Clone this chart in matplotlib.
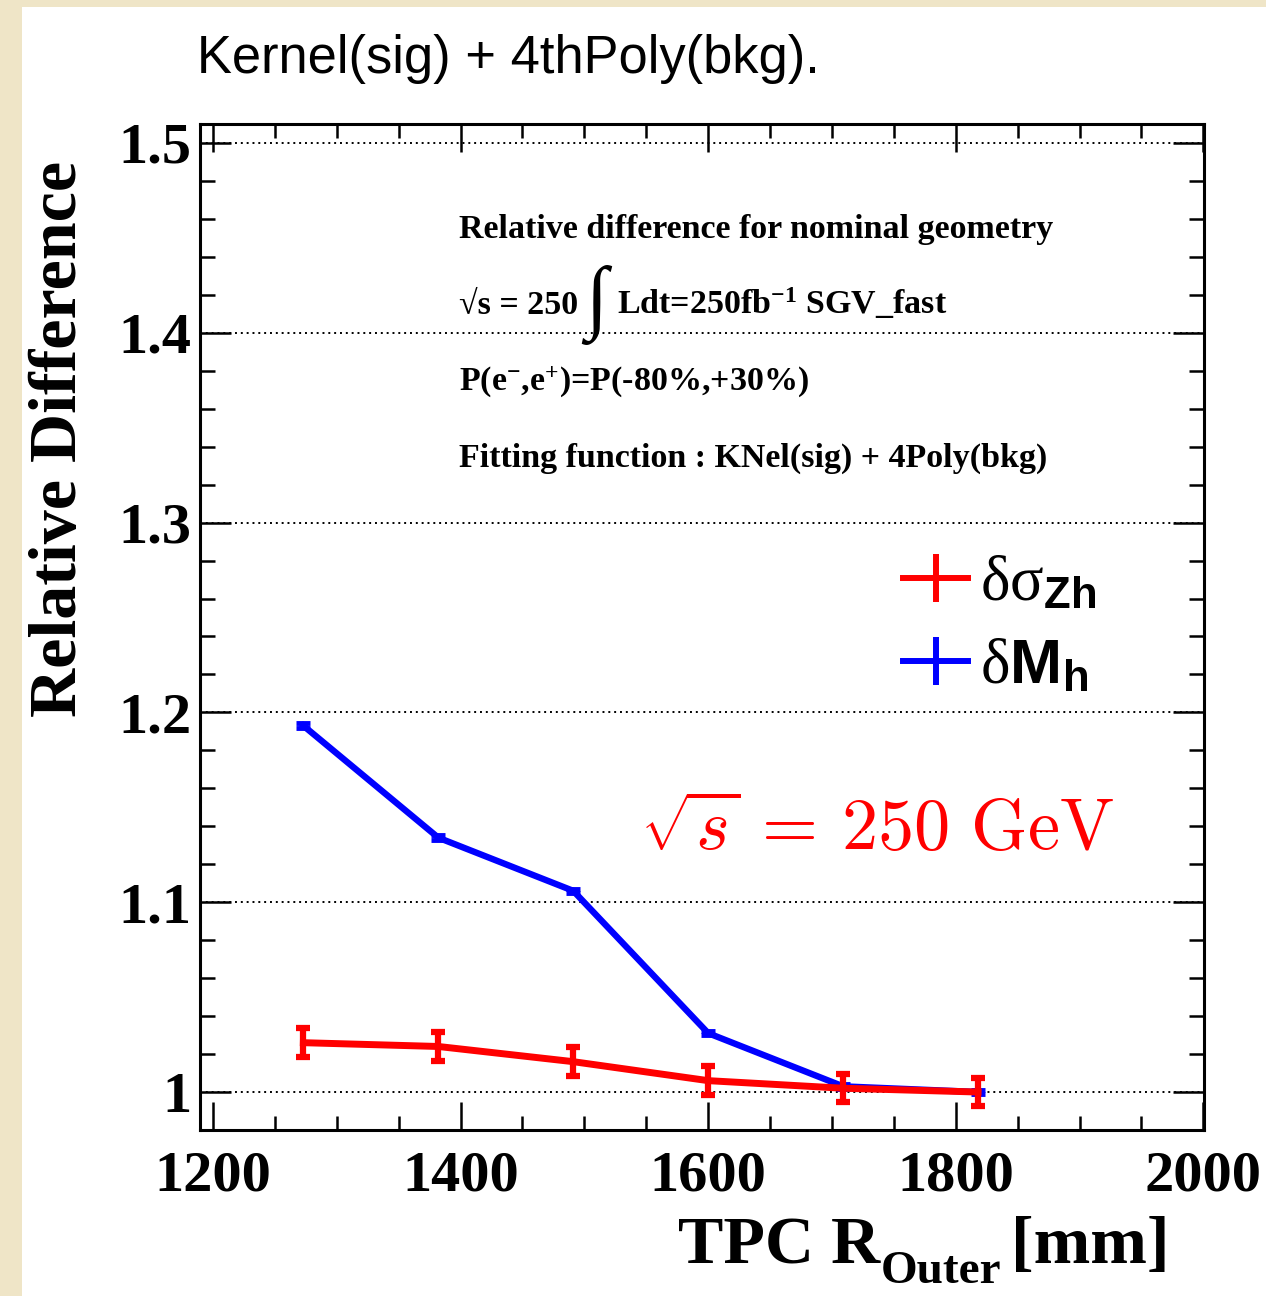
import matplotlib
matplotlib.use("Agg")
import matplotlib.pyplot as plt
from matplotlib.patches import Rectangle
from matplotlib.lines import Line2D
from matplotlib.ticker import MultipleLocator

plt.rcParams["mathtext.fontset"] = "custom"
plt.rcParams["mathtext.rm"] = "Liberation Serif"
plt.rcParams["mathtext.bf"] = "Liberation Serif:bold"
plt.rcParams["mathtext.sf"] = "Liberation Sans:bold"
plt.rcParams["mathtext.it"] = "Liberation Serif:italic"

# TPC outer radius scan (0.70 ... 1.00 of the nominal 1818 mm)
r_outer = [1273, 1382, 1491, 1600, 1709, 1818]
# relative precision on the ZH cross section, normalised to nominal geometry
delta_sigma_zh = [1.026, 1.024, 1.016, 1.006, 1.002, 1.000]
delta_sigma_err = [0.0075, 0.0075, 0.0075, 0.0075, 0.0075, 0.0075]
# relative precision on the Higgs mass
delta_mh = [1.193, 1.134, 1.106, 1.031, 1.003, 1.000]
delta_mh_err = [0.0012, 0.0012, 0.0012, 0.0012, 0.0012, 0.0012]

x_major = [1200, 1400, 1600, 1800, 2000]
y_major = [1.0, 1.1, 1.2, 1.3, 1.4, 1.5]
y_labels = ["1", "1.1", "1.2", "1.3", "1.4", "1.5"]

W, H = 1266, 1296
fig = plt.figure(figsize=(W / 100, H / 100), dpi=100)
fig.patch.set_facecolor("#efe5c7")
fig.patches.append(Rectangle((22 / W, 0), 1, 1 - 7 / H, transform=fig.transFigure,
                             facecolor="white", edgecolor="none", zorder=-5))


def fx(x):
    return x / W


def fy(y):
    return 1 - y / H


ax = fig.add_axes([fx(200), fy(1130), (1204 - 200) / W, (1130 - 124) / H])
ax.set_facecolor("white")
ax.set_xlim(1189.5, 2000.5)
ax.set_ylim(0.98, 1.51)

serif_bold = dict(family="Liberation Serif", weight="bold")

ax.set_xticks(x_major)
ax.set_xticklabels([str(v) for v in x_major], fontsize=42, **serif_bold)
ax.set_yticks(y_major)
ax.set_yticklabels(y_labels, fontsize=42, **serif_bold)
ax.xaxis.set_minor_locator(MultipleLocator(50))
ax.yaxis.set_minor_locator(MultipleLocator(0.02))
ax.tick_params(which="both", direction="in", top=True, right=True, width=1.8)
ax.tick_params(axis="x", which="major", length=20, pad=15)
ax.tick_params(axis="x", which="minor", length=10)
ax.tick_params(axis="y", which="major", length=22, pad=6)
ax.tick_params(axis="y", which="minor", length=11)
for s in ax.spines.values():
    s.set_linewidth(2.2)

ax.yaxis.grid(True, which="major", color="black", linestyle=(0, (1, 2)), linewidth=1.4)
ax.set_axisbelow(True)

ax.errorbar(r_outer, delta_mh, yerr=delta_mh_err, color="#0000ff", lw=4.6,
            elinewidth=4, capsize=5, capthick=3.5, zorder=3)
ax.errorbar(r_outer, delta_sigma_zh, yerr=delta_sigma_err, color="#ff0000", lw=5,
            elinewidth=4.5, capsize=5, capthick=4.5, zorder=4)

handles = [
    Line2D([], [], color="#ff0000", lw=4.3, marker="|", markersize=34, mew=4.3),
    Line2D([], [], color="#0000ff", lw=4.3, marker="|", markersize=34, mew=4.3),
]
labels = [r"$\mathrm{δσ}_{\mathsf{Zh}}$", r"$\mathrm{δ}\mathsf{M}_{\mathsf{h}}$"]
leg = ax.legend(handles, labels, loc="upper left",
                bbox_to_anchor=(fx(903), fy(553)), bbox_transform=fig.transFigure,
                frameon=False, fontsize=45, handlelength=1.04, handletextpad=0.2,
                borderpad=0, borderaxespad=0, labelspacing=0.37, numpoints=1)

# centre-of-mass energy
fig.text(fx(640), fy(850), r"$\sqrt{s}\,=\,250\ \mathrm{GeV}$", color="#ff0000",
         fontsize=52, math_fontfamily="cm", ha="left", va="baseline")

# information block
info_size = 24.5
fig.text(fx(459), fy(238), "Relative difference for nominal geometry",
         fontsize=info_size, ha="left", va="baseline", **serif_bold)
fig.text(fx(459), fy(314), "√s = 250", fontsize=info_size, ha="left",
         va="baseline", **serif_bold)
fig.text(fx(585), fy(323), "∫", fontsize=58, ha="left", va="baseline",
         family="Liberation Serif")
fig.text(fx(617), fy(314), r"Ldt=250fb$^{\mathbf{-1}}$ SGV_fast", fontsize=info_size,
         ha="left", va="baseline", **serif_bold)
fig.text(fx(459), fy(390), r"P(e$^{\mathbf{-}}$,e$^{\mathbf{+}}$)=P(-80%,+30%)",
         fontsize=info_size, ha="left", va="baseline", **serif_bold)
fig.text(fx(459), fy(467), "Fitting function : KNel(sig) + 4Poly(bkg)",
         fontsize=info_size, ha="left", va="baseline", **serif_bold)

# title and axis titles
fig.text(fx(197), fy(73), "Kernel(sig) + 4thPoly(bkg).", family="Liberation Sans",
         fontsize=37.8, ha="left", va="baseline")
fig.text(fx(76), fy(439), "Relative Difference", rotation=90, rotation_mode="anchor",
         ha="center", va="baseline", fontsize=49, **serif_bold)
fig.text(fx(880), fy(1263), "TPC R", ha="right", va="baseline", fontsize=49, **serif_bold)
fig.text(fx(881), fy(1283), "Outer", ha="left", va="baseline", fontsize=34, **serif_bold)
fig.text(fx(1170), fy(1263), "[mm]", ha="right", va="baseline", fontsize=49, **serif_bold)

fig.savefig("out.png", dpi=100, facecolor=fig.get_facecolor())
